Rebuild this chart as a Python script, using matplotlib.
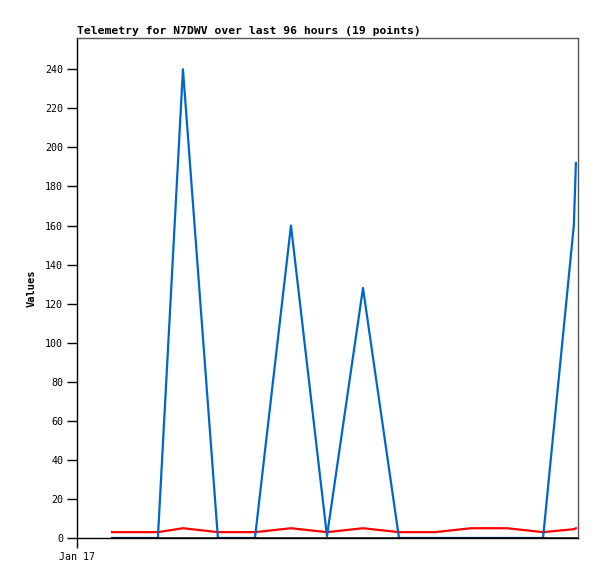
import matplotlib
matplotlib.use("Agg")
import matplotlib.pyplot as plt

# hours since start of window (Jan 17 00:00)
hours = [6.7, 11.1, 15.5, 20.3, 27.0, 30.5, 34.1, 41.0, 47.9, 54.8,
         61.7, 65.1, 68.6, 75.5, 79.0, 82.4, 89.3, 95.2, 95.6]
blue_vals = [0, 0, 0, 240, 0, 0, 0, 160, 1, 128,
             0, 0, 0, 0, 0, 0, 0, 160, 192]
red_vals = [3, 3, 3, 5, 3, 3, 3, 5, 3, 5,
            3, 3, 3, 5, 5, 5, 3, 4.5, 5]
black_vals = [0] * len(hours)

yticks = list(range(0, 241, 20))
xtick_labels = ["Jan 17"]

mono = "DejaVu Sans Mono"

fig = plt.figure(figsize=(5.97, 5.79), dpi=100)
ax = fig.add_axes([77 / 597, 1 - 538 / 579, (578 - 77) / 597, 500 / 579])

ax.plot(hours, red_vals, color="#ff0000", lw=1.6, zorder=2)
ax.plot(hours, blue_vals, color="#0066cc", lw=1.6, zorder=3)
ax.plot(hours, black_vals, color="black", lw=1.8, zorder=4)

ax.set_xlim(0, 96)
ax.set_ylim(0, 256)
ax.set_yticks(yticks)
ax.set_yticklabels([str(v) for v in yticks], family=mono, fontsize=7.2)
ax.set_xticks([0])
ax.set_xticklabels(xtick_labels, family=mono, fontsize=7.2)
ax.tick_params(axis="both", direction="out", length=7, width=1, pad=3)

ax.spines["left"].set_color("black")
ax.spines["bottom"].set_color("black")
ax.spines["top"].set_color("#555555")
ax.spines["right"].set_color("#555555")
for s in ax.spines.values():
    s.set_linewidth(1)

ax.set_ylabel("Values", family=mono, fontsize=7.5, fontweight="bold", labelpad=6)
fig.text(77 / 597, 1 - 34 / 579, "Telemetry for N7DWV over last 96 hours (19 points)",
         family=mono, fontsize=8.2, fontweight="bold", ha="left", va="baseline")

fig.savefig("out.png", dpi=100)
